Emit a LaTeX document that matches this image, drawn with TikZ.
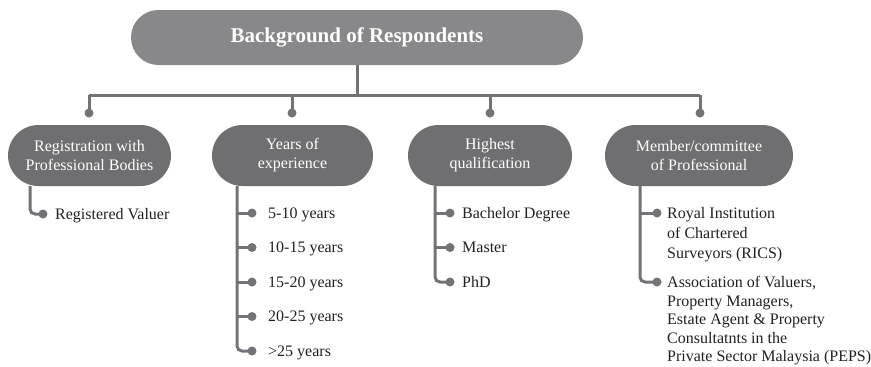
\documentclass[tikz,border=0pt]{standalone}
\usepackage{fontspec}
\setmainfont{Liberation Serif}
\usetikzlibrary{shapes.misc}
\definecolor{titlegray}{HTML}{88888B}
\definecolor{boxgray}{HTML}{6F6F72}
\definecolor{linegray}{HTML}{727376}
\definecolor{ink}{HTML}{231F20}
\begin{document}
\begin{tikzpicture}[x=1bp,y=-1bp,
  titlebox/.style={rounded rectangle, fill=titlegray, text=white,
    minimum width=452bp, minimum height=55bp, inner sep=0pt,
    font=\fontsize{21bp}{24bp}\selectfont\bfseries},
  catbox/.style={rounded rectangle, fill=boxgray, text=white,
    minimum height=61bp, inner sep=0pt, align=center,
    font=\fontsize{16bp}{19bp}\selectfont},
  conn/.style={draw=linegray, line width=3bp},
  bullet/.style={circle, fill=linegray, inner sep=0pt, minimum size=9bp},
  entry/.style={anchor=base west, inner sep=0pt, align=left, text=ink,
    font=\fontsize{16bp}{20bp}\selectfont},
  longentry/.style={entry, anchor=north west},
]
\useasboundingbox (0,0) rectangle (871,366);

% title and category boxes
\node[titlebox] (title) at (357,37.5) {Background of Respondents};
\node[catbox, minimum width=163bp] (b1) at (89.5,155.5) {Registration with\\Professional Bodies};
\node[catbox, minimum width=161bp] (b2) at (292.5,155.5) {Years of\\experience};
\node[catbox, minimum width=164bp] (b3) at (490,155.5) {Highest\\qualification};
\node[catbox, minimum width=188bp] (b4) at (699,155.5) {Member/committee\\of Professional};

% bus from the title down to each category
\coordinate (bus) at (357,95);
\node[bullet] (t1) at (89,113) {};
\node[bullet] (t2) at (292,113) {};
\node[bullet] (t3) at (490,113) {};
\node[bullet] (t4) at (700,113) {};
\draw[conn] (title.south) -- (bus);
\draw[conn] (t1.center |- bus) -- (t4.center |- bus);
\foreach \t in {t1,t2,t3,t4} \draw[conn] (\t.center |- bus) -- (\t.center);

% stems under the category boxes
\coordinate (s1) at (30,186);
\coordinate (s2) at (237,186);
\coordinate (s3) at (435,186);
\coordinate (s4) at (640,186);

% registration
\node[bullet] (d1a) at (43,214) {};
\node[entry] (e1a) at (55,219) {Registered Valuer};
\draw[conn, rounded corners=5bp] (s1) |- (d1a.center);

% years of experience
\foreach \n/\y/\txt in {a/213/5-10 years, b/247.5/10-15 years, c/282/15-20 years, d/316.5/20-25 years, e/351/>25 years}{
  \node[bullet] (d2\n) at (252,\y) {};
  \node[entry] (e2\n) at (268,\y+5) {\txt};
}
\foreach \n in {a,b,c,d} \draw[conn] (s2 |- d2\n) -- (d2\n.center);
\draw[conn, rounded corners=5bp] (s2) |- (d2e.center);

% highest qualification
\foreach \n/\y/\txt in {a/213/Bachelor Degree, b/247.5/Master, c/282/PhD}{
  \node[bullet] (d3\n) at (450,\y) {};
  \node[entry] (e3\n) at (462,\y+5) {\txt};
}
\foreach \n in {a,b} \draw[conn] (s3 |- d3\n) -- (d3\n.center);
\draw[conn, rounded corners=5bp] (s3) |- (d3c.center);

% professional membership
\node[bullet] (d4a) at (657,213) {};
\node[longentry] (e4a) at (667,207) {Royal Institution\\of Chartered\\Surveyors (RICS)};
\node[bullet] (d4b) at (657,282) {};
\node[longentry, font=\fontsize{16bp}{18.6bp}\selectfont] (e4b) at (667,276)
  {Association of Valuers,\\Property Managers,\\Estate Agent \& Property\\Consultatnts in the\\Private Sector Malaysia (PEPS)};
\draw[conn] (s4 |- d4a) -- (d4a.center);
\draw[conn, rounded corners=5bp] (s4) |- (d4b.center);
\end{tikzpicture}
\end{document}
